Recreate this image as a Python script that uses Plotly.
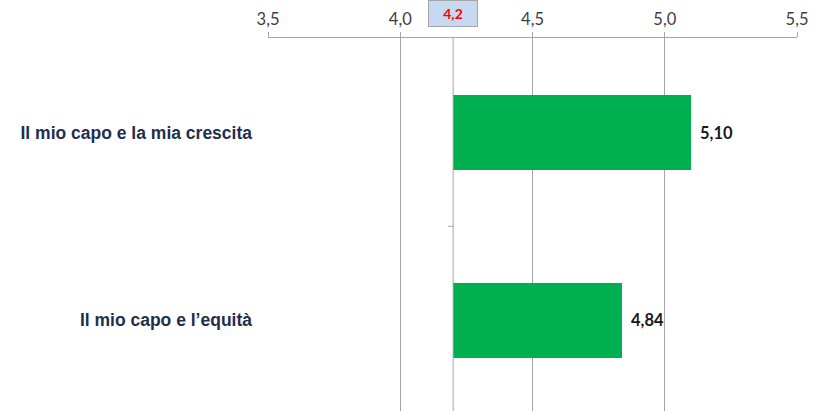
import plotly.graph_objects as go

categories = ["Il mio capo e la mia crescita", "Il mio capo e l\u2019equità"]
values = [5.10, 4.84]
value_labels = ["5,10", "4,84"]
base_value = 4.2
base_label = "4,2"
tick_vals = [3.5, 4.0, 4.5, 5.0, 5.5]
tick_text = ["3,5", "4,0", "4,5", "5,0", "5,5"]

GRID = "#A6A6A6"

fig = go.Figure()
fig.add_trace(go.Bar(
    y=categories,
    x=[v - base_value for v in values],
    base=[base_value] * len(values),
    orientation="h",
    width=0.4,
    marker=dict(color="#00B050", line=dict(width=0)),
    hoverinfo="skip",
))

for cat, v, lab in zip(categories, values, value_labels):
    fig.add_annotation(
        x=v, y=cat, xref="x", yref="y",
        text=f"<b>{lab}</b>", showarrow=False,
        xanchor="left", yanchor="middle", xshift=7,
        font=dict(family="Lato, Open Sans, sans-serif", size=16.5, color="#1A1A1A"),
    )

# base value marker box
fig.add_annotation(
    x=base_value, y=1, xref="x", yref="paper",
    text=f"<b>{base_label}</b>", showarrow=False,
    xanchor="center", yanchor="bottom", yshift=11,
    width=48, height=25, borderpad=0, borderwidth=1,
    bgcolor="#C6D9F1", bordercolor="#A6A6A6",
    font=dict(family="Lato, Open Sans, sans-serif", size=14, color="#FF0000"),
)

# vertical axis at base value
fig.add_shape(type="line", xref="x", yref="paper",
              x0=base_value, x1=base_value, y0=0, y1=1,
              line=dict(color=GRID, width=1))
# small tick at category boundary
fig.add_shape(type="line", xref="x", yref="y", xsizemode="pixel",
              xanchor=base_value, x0=-5, x1=0, y0=0.5, y1=0.5,
              line=dict(color=GRID, width=1))

fig.update_layout(
    width=821, height=411,
    margin=dict(l=268, r=24, t=38, b=0),
    paper_bgcolor="white", plot_bgcolor="white",
    showlegend=False,
    bargap=0,
    xaxis=dict(
        side="top", range=[3.5, 5.5],
        tickvals=tick_vals, ticktext=tick_text,
        showgrid=True, gridcolor=GRID, gridwidth=1,
        showline=True, linecolor=GRID, linewidth=1,
        ticks="outside", ticklen=5, tickcolor=GRID,
        zeroline=False,
        tickfont=dict(family="Lato, Open Sans, sans-serif", size=16.5, color="#404040"),
    ),
    yaxis=dict(
        type="category", categoryorder="array", categoryarray=categories,
        range=[1.485, -0.504],
        showgrid=False, showline=False, zeroline=False,
        ticks="", ticklabelstandoff=15,
        tickfont=dict(family="Liberation Sans, Arial, sans-serif", size=17.5,
                      color="#1F2F4F", weight="bold"),
    ),
)

fig.write_html("out.html", config={"displayModeBar": False},
               post_script="document.body.style.margin='0';")
